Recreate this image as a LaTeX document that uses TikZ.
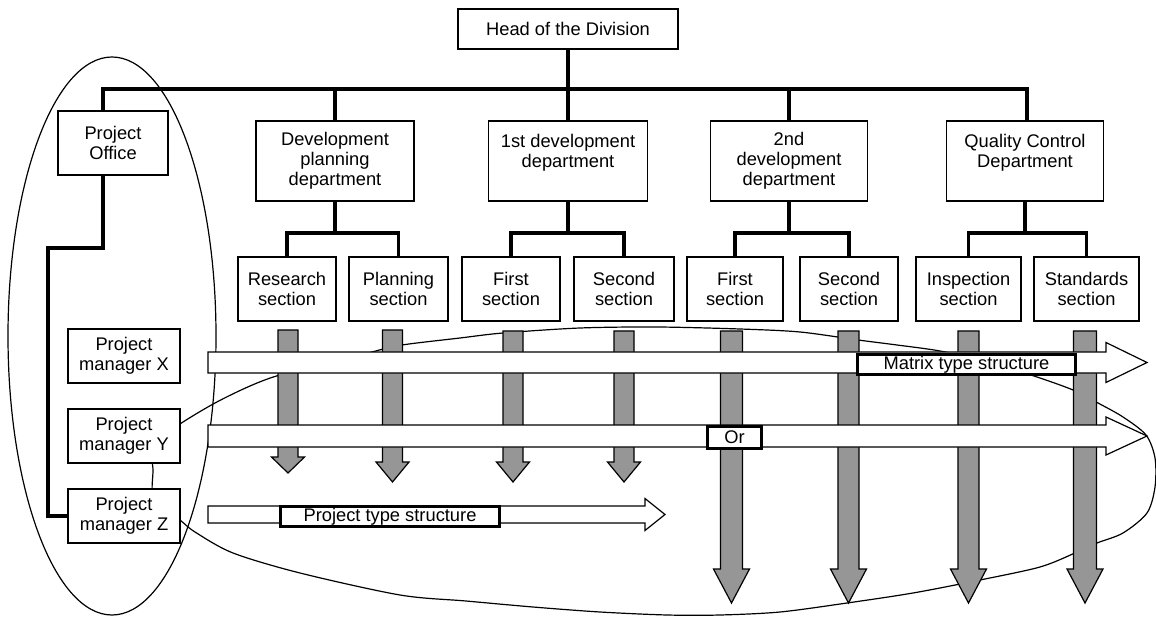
\documentclass[tikz,border=0pt]{standalone}
\usepackage{fontspec}
\setmainfont{Liberation Sans}
\definecolor{arrowgray}{RGB}{150,150,150}
\newcommand\dfont{\fontsize{18.3}{20}\selectfont}
\newcommand\garr[6]{%
  \draw[garrow] ({#1-#4},#2) -- ({#1+#4},#2) -- ({#1+#4},{#3-#6}) -- ({#1+#5},{#3-#6})
    -- (#1,#3) -- ({#1-#5},{#3-#6}) -- ({#1-#4},{#3-#6}) -- cycle;}
\newcommand\harr[6]{%
  \draw[warrow] (#1,{#2-#5}) -- (#3,{#2-#5}) -- (#3,{#2-#6}) -- (#4,#2)
    -- (#3,{#2+#6}) -- (#3,{#2+#5}) -- (#1,{#2+#5}) -- cycle;}
\begin{document}
\begin{tikzpicture}[x=1pt,y=-1pt,
  box/.style={draw, line width=1.4pt, fill=white, inner sep=0pt, align=center, font=\dfont},
  conn/.style={line width=3.4pt},
  thinline/.style={line width=1.2pt},
  garrow/.style={draw, line width=1.2pt, fill=arrowgray},
  warrow/.style={draw, line width=1.2pt, fill=white},
  lbl/.style={draw, line width=2.8pt, fill=white, inner sep=0pt, font=\dfont}]
\useasboundingbox (0,0) rectangle (1156,617);

% ellipse around project office
\draw[thinline] (112,336) ellipse [x radius=104, y radius=279];

% freeform loop (matrix type structure)
\draw[thinline] plot[smooth cycle, tension=0.5] coordinates {
 (153,445) (180,424) (215,403) (250,386) (280,375) (330,364) (372,352) (402,345)
 (460,338) (503,333) (580,328) (657,327) (740,329) (800,332) (858,340) (897,345)
 (940,351) (990,362) (1037,377) (1073,390) (1098,403) (1123,417) (1146,435)
 (1155,458) (1155,487) (1147,513) (1123,533) (1097,543) (1075,553) (1040,567)
 (980,580) (913,593) (847,603) (780,612) (720,615) (667,615) (600,612) (533,607)
 (466,601) (400,595) (300,573) (233,553) (195,532) (180,520) (154,500) (153,470)};

% nodes
\node[box, minimum width=220, minimum height=40] (head) at (568,29) {Head of the Division};
\node[box, minimum width=110, minimum height=64] (po) at (113,143) {Project\\Office};
\node[box, minimum width=158, minimum height=80] (d1) at (335,161) {Development\\planning\\department};
\node[box, minimum width=159, minimum height=80] (d2) at (568,161) {1st development\\department\\~};
\node[box, minimum width=157, minimum height=80] (d3) at (789,161) {2nd\\development\\department};
\node[box, minimum width=157, minimum height=80] (qc) at (1025,161) {Quality Control\\Department\\~};

\node[box, minimum width=98, minimum height=64] (rs) at (287,289) {Research\\section};
\node[box, minimum width=99, minimum height=64] (ps) at (398.5,289) {Planning\\section};
\node[box, minimum width=98, minimum height=64] (f1) at (511,289) {First\\section};
\node[box, minimum width=100, minimum height=64] (s1) at (624,289) {Second\\section};
\node[box, minimum width=96, minimum height=64] (f2) at (735,289) {First\\section};
\node[box, minimum width=98, minimum height=64] (s2) at (849,289) {Second\\section};
\node[box, minimum width=105, minimum height=64] (is) at (968.5,289) {Inspection\\section};
\node[box, minimum width=105, minimum height=64] (ss) at (1086.5,289) {Standards\\section};

\node[box, minimum width=112, minimum height=54] (px) at (124,356) {Project\\manager X};
\node[box, minimum width=112, minimum height=54] (py) at (124,436) {Project\\manager Y};
\node[box, minimum width=112, minimum height=54] (pz) at (124,516) {Project\\manager Z};

% connectors
\coordinate (busL) at (103,89);
\coordinate (busR) at (1027,89);
\coordinate (sb) at (0,233);
\coordinate (pm) at (48,248);
\draw[conn] (po.north -| busL) -- (busL) -- (busR) -- (busR |- qc.north);
\draw[conn] (head.south) -- (d2.north);
\draw[conn] (d1.north) -- (d1.north |- busL);
\draw[conn] (d3.north) -- (d3.north |- busL);
\draw[conn] (po.south -| busL) |- (pm) |- (pz.west);

\draw[conn] (d1.south) -- (d1.south |- sb);
\draw[conn] (rs.north) -- (rs.north |- sb) -- (ps.north |- sb) -- (ps.north);
\draw[conn] (d2.south) -- (d2.south |- sb);
\draw[conn] (f1.north) -- (f1.north |- sb) -- (s1.north |- sb) -- (s1.north);
\draw[conn] (d3.south) -- (d3.south |- sb);
\draw[conn] (f2.north) -- (f2.north |- sb) -- (s2.north |- sb) -- (s2.north);
\draw[conn] (qc.south) -- (qc.south |- sb);
\draw[conn] (is.north) -- (is.north |- sb) -- (ss.north |- sb) -- (ss.north);

% gray vertical arrows
\garr{288}{330}{473}{10}{16.5}{16}
\garr{392.5}{330}{482}{10}{16.5}{20}
\garr{513}{331}{482}{10}{16.5}{20}
\garr{624}{331}{482}{10}{16.5}{20}
\garr{731.5}{331}{603}{11}{18}{34}
\garr{848.5}{331}{603}{10.5}{18}{34}
\garr{968.5}{331}{603}{10.5}{18}{34}
\garr{1085}{331}{603}{11.5}{18}{34}

% white horizontal arrows
\harr{208}{362.5}{1106}{1147}{10.5}{20}
\harr{208}{436}{1106}{1147}{11}{19}
\harr{208}{514.5}{645}{665}{8.5}{16}

% labels
\node[lbl, minimum width=218, minimum height=20] (mts) at (966.5,364.5) {Matrix type structure};
\node[lbl, minimum width=54, minimum height=22] (or) at (734.5,437.5) {Or};
\node[lbl, minimum width=219, minimum height=20] (pts) at (390,516.5) {Project type structure};
\end{tikzpicture}
\end{document}
